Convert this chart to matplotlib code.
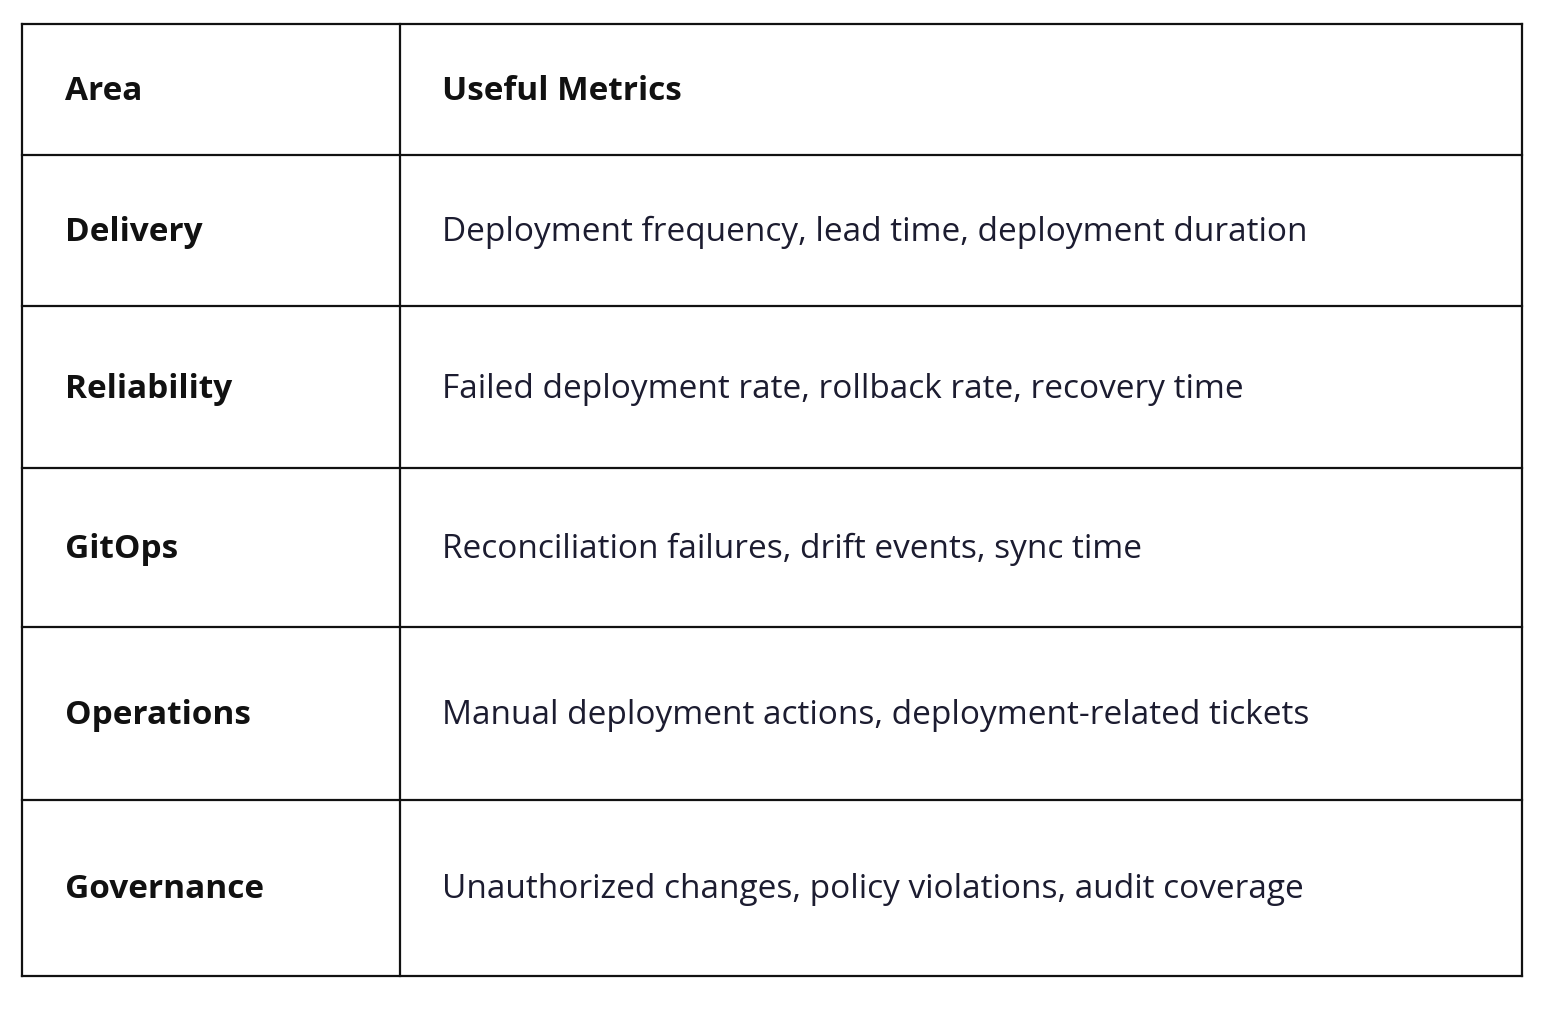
import matplotlib.pyplot as plt

# table content
header = ['Area', 'Useful Metrics']
areas = ['Delivery', 'Reliability', 'GitOps', 'Operations', 'Governance']
metrics = [
    'Deployment frequency, lead time, deployment duration',
    'Failed deployment rate, rollback rate, recovery time',
    'Reconciliation failures, drift events, sync time',
    'Manual deployment actions, deployment-related tickets',
    'Unauthorized changes, policy violations, audit coverage',
]

# layout in pixel coords
W, H = 1545, 1018
left, right, mid = 22, 1522, 400
row_edges = [24, 155, 306, 468, 627, 800, 976]

fig = plt.figure(figsize=(W / 100, H / 100), dpi=100)
ax = fig.add_axes([0, 0, 1, 1])
ax.set_xlim(0, W)
ax.set_ylim(H, 0)
ax.axis('off')

lw = 1.6
for y in row_edges:
    ax.plot([left, right], [y, y], color='#111111', lw=lw)
for x in (left, mid, right):
    ax.plot([x, x], [row_edges[0], row_edges[-1]], color='#111111', lw=lw)

font = ['Open Sans', 'DejaVu Sans']
centers = [(row_edges[i] + row_edges[i + 1]) / 2 for i in range(len(row_edges) - 1)]
ax.text(65, centers[0] + 2, header[0], fontsize=24, fontweight='bold', family=font,
        va='center', color='#111111')
ax.text(442, centers[0] + 2, header[1], fontsize=24, fontweight='bold', family=font,
        va='center', color='#111111')
for c, a, m in zip(centers[1:], areas, metrics):
    ax.text(65, c + 2, a, fontsize=24, fontweight='bold', family=font,
            va='center', color='#111111')
    ax.text(442, c + 2, m, fontsize=24, family=font, va='center', color='#1c1c30')

fig.savefig('out.png', dpi=100, facecolor='white')
